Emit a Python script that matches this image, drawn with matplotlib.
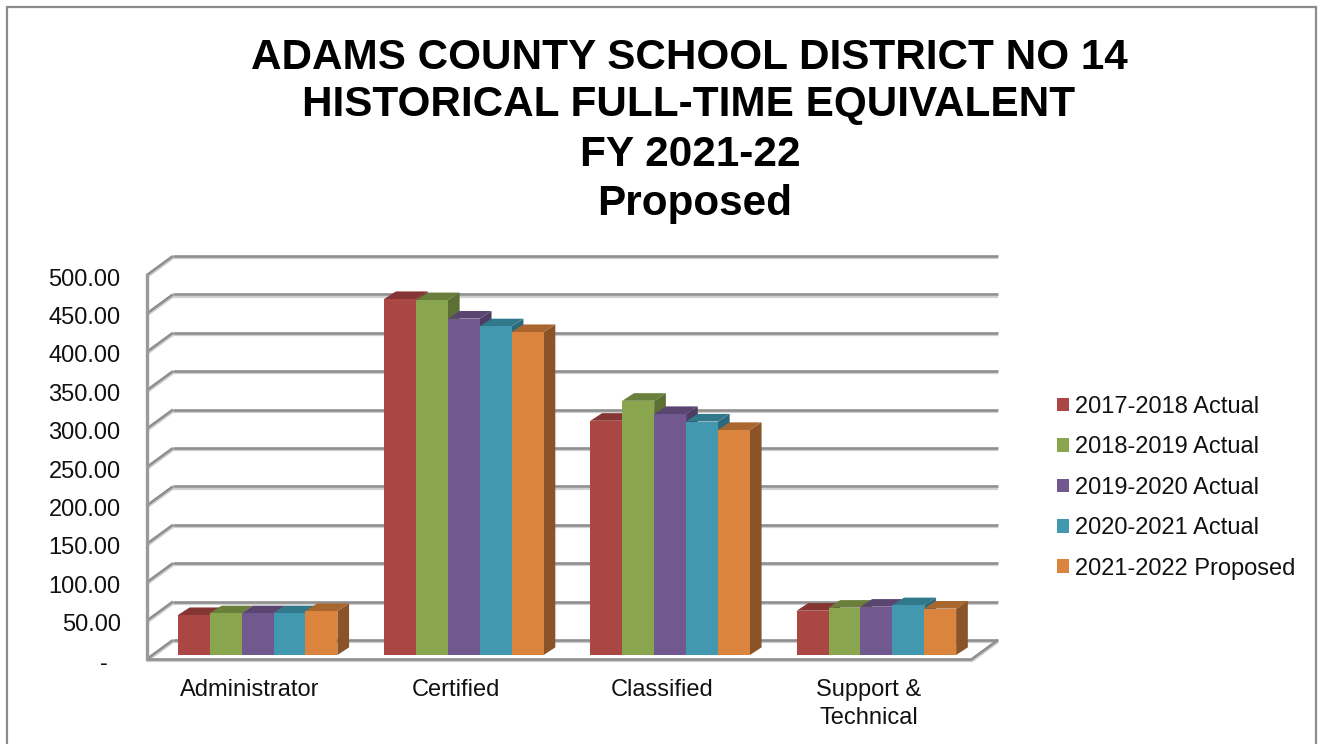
import matplotlib
matplotlib.use("Agg")
import matplotlib.pyplot as plt
from matplotlib.patches import Patch, Polygon, Rectangle
from matplotlib.transforms import ScaledTranslation

plt.rcParams["font.family"] = ["Liberation Sans", "DejaVu Sans"]

WIDTH, HEIGHT = 1320, 744

categories = ["Administrator", "Certified", "Classified", "Support &\nTechnical"]
series_names = ["2017-2018 Actual", "2018-2019 Actual", "2019-2020 Actual",
                "2020-2021 Actual", "2021-2022 Proposed"]
fte_2017_18 = [52.0, 463.5, 305.0, 57.7]
fte_2018_19 = [54.3, 462.0, 331.0, 61.6]
fte_2019_20 = [54.3, 438.0, 313.8, 62.9]
fte_2020_21 = [54.3, 428.0, 304.0, 64.8]
fte_2021_22 = [57.3, 420.5, 293.0, 60.4]
all_series = [fte_2017_18, fte_2018_19, fte_2019_20, fte_2020_21, fte_2021_22]

y_ticks = [0, 50, 100, 150, 200, 250, 300, 350, 400, 450, 500]
y_labels = ["-  "] + [f"{t:.2f}" for t in y_ticks[1:]]

front_colors = ["#AA4643", "#89A54E", "#71588F", "#4198AF", "#DB843D"]
top_colors = ["#853634", "#6B7F3D", "#5A4571", "#32788B", "#A9662F"]
side_colors = ["#7A3230", "#5C6F34", "#4E3C63", "#2C6A7B", "#8A5428"]

title_lines = [("ADAMS COUNTY SCHOOL DISTRICT NO 14", 689, 58),
               ("HISTORICAL FULL-TIME EQUIVALENT", 689, 105),
               ("FY 2021-22", 690, 155),
               ("Proposed", 695, 204)]
text_size = 17

fig = plt.figure(figsize=(WIDTH / 100, HEIGHT / 100), dpi=100, facecolor="white")

# Outer chart frame (runs off the bottom edge)
fig.add_artist(Rectangle((7 / WIDTH, -0.02), (1316 - 7) / WIDTH,
                         (HEIGHT - 7) / HEIGHT + 0.02,
                         transform=fig.transFigure, fill=False,
                         edgecolor="#8C8C8C", linewidth=1.6))

# Axes span the front plane of the pseudo-3D box
left, right, top, bottom = 147, 972, 275, 659
ax = fig.add_axes([left / WIDTH, 1 - bottom / HEIGHT,
                   (right - left) / WIDTH, (bottom - top) / HEIGHT])
ax.set_xlim(-0.5, 3.5)
ax.set_ylim(0, 500)
ax.patch.set_alpha(0)
for spine in ax.spines.values():
    spine.set_visible(False)

# Pixel-to-data scale factors for the oblique depth offsets
ux = 4 / (right - left)
uy = 500 / (bottom - top)
wall_dx, wall_dy = 26 * ux, 19 * uy
bar_dx, bar_dy = 11.7 * ux, 7.6 * uy
bar_width = 31.9 * ux
group_shift = 7.5 * ux
floor_lift = 4 * uy


def wall_line(xs, ys, **kw):
    # Dark rule with a pale drop shadow just beneath it
    ax.plot(xs, [v - 2.2 * uy for v in ys], color="#D0D0D0", lw=1.6,
            solid_capstyle="butt", clip_on=False, zorder=1, **kw)
    ax.plot(xs, ys, color="#8F8F8F", lw=1.9,
            solid_capstyle="butt", clip_on=False, zorder=1.2, **kw)


x0, x1 = -0.5, 3.5
for t in y_ticks:
    wall_line([x0 + wall_dx, x1 + wall_dx], [t + wall_dy, t + wall_dy])
    wall_line([x0, x0 + wall_dx], [t, t + wall_dy])
wall_line([x0, x1], [0, 0])
wall_line([x1, x1 + wall_dx], [0, wall_dy])
ax.plot([x0, x0], [0, 500], color="#9A9A9A", lw=2.4, clip_on=False, zorder=1.3)

# Bars: front face through ax.bar, then the side and top faces of each block
n = len(all_series)
for i, (values, fc, tc, sc) in enumerate(zip(all_series, front_colors, top_colors, side_colors)):
    for c, v in enumerate(values):
        xl = c + group_shift + (i - n / 2) * bar_width
        xr = xl + bar_width
        low, high = floor_lift, v + floor_lift
        z = 2 + i * 0.1
        ax.add_patch(Polygon([(xr, low), (xr + bar_dx, low + bar_dy),
                              (xr + bar_dx, high + bar_dy), (xr, high)],
                             closed=True, facecolor=sc, edgecolor="none",
                             clip_on=False, zorder=z))
        ax.add_patch(Polygon([(xl, high), (xr, high),
                              (xr + bar_dx, high + bar_dy), (xl + bar_dx, high + bar_dy)],
                             closed=True, facecolor=tc, edgecolor="none",
                             clip_on=False, zorder=z))
        ax.bar(xl, v, width=bar_width, bottom=low, align="edge", color=fc,
               edgecolor="none", clip_on=False, zorder=z + 0.01)

# Axis labels
ax.set_yticks(y_ticks)
ax.set_yticklabels(y_labels, fontsize=text_size, color="#111111", va="center_baseline")
ax.tick_params(axis="y", length=0, pad=19)
nudge = ScaledTranslation(0, -1.5 / 72, fig.dpi_scale_trans)
for lab in ax.get_yticklabels():
    lab.set_transform(lab.get_transform() + nudge)
ax.set_xticks(range(len(categories)))
ax.set_xticklabels(categories, fontsize=text_size, color="#111111", linespacing=1.35)
ax.tick_params(axis="x", length=0, pad=14.7)

# Stacked title lines
for text, cx, cy in title_lines:
    fig.text(cx / WIDTH, 1 - cy / HEIGHT, text, ha="center", va="center",
             fontsize=30.4, fontweight="bold", color="black")

# Legend
handles = [Patch(facecolor=c, edgecolor="none", label=s)
           for c, s in zip(front_colors, series_names)]
fig.legend(handles=handles, loc="center left",
           bbox_to_anchor=(1057 / WIDTH, 1 - 487.7 / HEIGHT),
           frameon=False, fontsize=text_size, labelcolor="#111111",
           handlelength=0.51, handleheight=0.51, handletextpad=0.25,
           labelspacing=0.78, borderpad=0, borderaxespad=0)

fig.savefig("out.png", dpi=100)
